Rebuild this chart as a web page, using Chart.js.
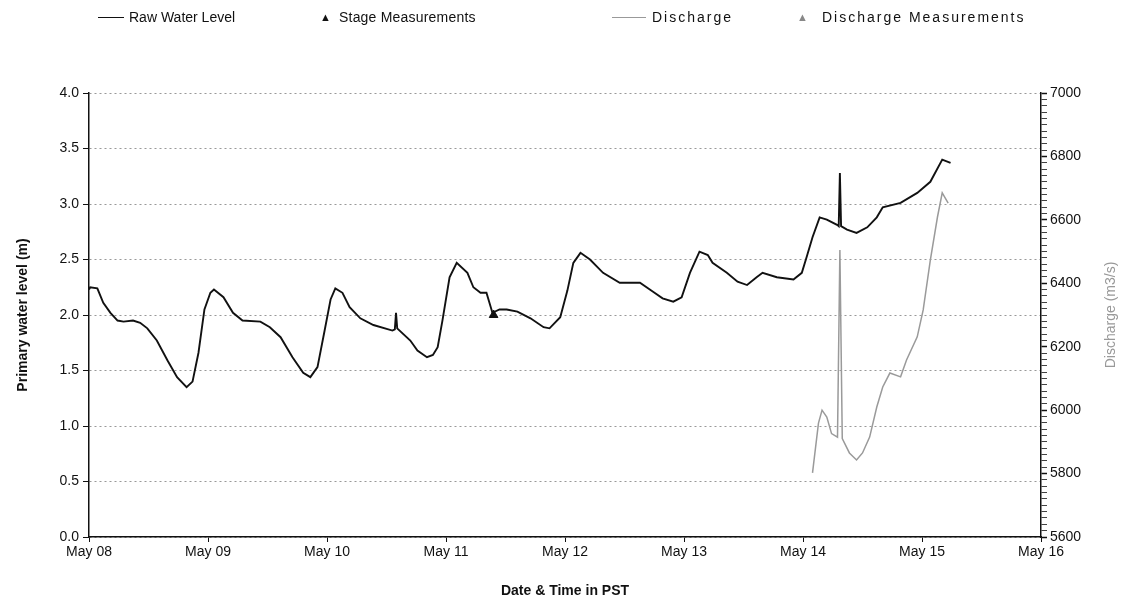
<!DOCTYPE html>
<html>
<head>
<meta charset="utf-8">
<script src="https://cdn.jsdelivr.net/npm/chart.js@4"></script>
<style>
  body{margin:0;background:#fff;}
  #wrap{position:relative;width:1127px;height:603px;}
  #legend{position:absolute;left:0;top:0;width:1127px;height:34px;font:14px "Liberation Sans",Arial,sans-serif;color:#111;}
  #legend span{position:absolute;top:9px;white-space:nowrap;}
  #legend .ln{height:0;top:17px;border-top:1.5px solid #111;}
  #legend .tri{font-size:11px;top:11px;}
  #legend .wide{letter-spacing:2px;}
</style>
</head>
<body>
<div id="wrap">
  <canvas id="level-canvas" width="1127" height="603"></canvas>
  <div id="legend">
    <span class="ln" style="left:98px;width:26px"></span><span style="left:129px">Raw Water Level</span>
    <span class="tri" style="left:320px">▲</span><span style="left:339px;letter-spacing:0.2px">Stage Measurements</span>
    <span class="ln" style="left:612px;width:34px;border-color:#999"></span><span class="wide" style="left:652px">Discharge</span>
    <span class="tri" style="left:797px;color:#888">▲</span><span class="wide" style="left:822px">Discharge Measurements</span>
  </div>
</div>
<script>
// x values are days after May 08 00:00 PST
const dayLabels=['May 08','May 09','May 10','May 11','May 12','May 13','May 14','May 15','May 16']

const levelDays=[0.00,0.01,0.07,0.12,0.18,0.24,0.29,0.37,0.43,0.49,0.57,0.66,0.74,0.82,0.87,0.92,0.97,1.02,1.05,1.13,
  1.21,1.29,1.44,1.52,1.61,1.71,1.80,1.86,1.92,1.98,2.03,2.07,2.13,2.19,2.28,2.39,2.55,2.57,2.58,2.59,
  2.70,2.76,2.84,2.89,2.93,2.97,3.03,3.09,3.18,3.23,3.29,3.34,3.39,3.45,3.51,3.60,3.71,3.82,3.87,3.96,
  4.02,4.07,4.13,4.21,4.32,4.46,4.63,4.74,4.82,4.91,4.98,5.05,5.13,5.20,5.24,5.36,5.45,5.53,5.61,5.66,
  5.78,5.92,5.99,6.03,6.08,6.14,6.20,6.29,6.30,6.31,6.32,6.37,6.45,6.54,6.62,6.67,6.82,6.96,7.07,7.17,7.24]
const levelValues=[2.23,2.25,2.24,2.11,2.02,1.95,1.94,1.95,1.93,1.88,1.77,1.59,1.44,1.35,1.40,1.66,2.05,2.20,2.23,2.16,
  2.02,1.95,1.94,1.89,1.80,1.62,1.48,1.44,1.53,1.86,2.14,2.24,2.20,2.07,1.97,1.91,1.86,1.87,2.02,1.88,
  1.77,1.68,1.62,1.64,1.71,1.95,2.34,2.47,2.38,2.25,2.20,2.20,2.02,2.05,2.05,2.03,1.97,1.89,1.88,1.98,
  2.22,2.47,2.56,2.50,2.38,2.29,2.29,2.21,2.15,2.12,2.16,2.38,2.57,2.54,2.47,2.38,2.30,2.27,2.34,2.38,
  2.34,2.32,2.38,2.52,2.70,2.88,2.86,2.81,2.80,3.28,2.80,2.77,2.74,2.79,2.88,2.97,3.01,3.10,3.20,3.40,3.37]

const dischargeDays=[6.08,6.13,6.16,6.20,6.24,6.29,6.31,6.33,6.39,6.45,6.50,6.56,6.62,6.67,6.73,6.82,6.87,6.96,7.01,7.07,7.13,7.17,7.22]
const dischargeValues=[5802,5959,6000,5978,5926,5915,6505,5910,5865,5843,5865,5915,6010,6073,6117,6105,6158,6231,6316,6473,6609,6685,6653]

const stageDays=[3.40]
const stageValues=[2.00]
const dischargeMeasDays=[]
const dischargeMeasValues=[]

const toPoints=(xs,ys)=>xs.map((x,i)=>({x:x,y:ys[i]}))

const font={family:'"Liberation Sans", Arial, sans-serif',size:14}

// right axis title reads bottom to top like the left one
const rightTitle={
  id:'rightTitle',
  afterDraw(chart){
    const ctx=chart.ctx
    const a=chart.chartArea
    ctx.save()
    ctx.translate(1111,(a.top+a.bottom)/2)
    ctx.rotate(-Math.PI/2)
    ctx.font='14px "Liberation Sans", Arial, sans-serif'
    ctx.fillStyle='#999'
    ctx.textAlign='center'
    ctx.textBaseline='middle'
    ctx.fillText('Discharge (m3/s)',0,0)
    ctx.restore()
  }
}

new Chart(document.getElementById('level-canvas'),{
  type:'line',
  data:{
    datasets:[
      {label:'Raw Water Level',data:toPoints(levelDays,levelValues),borderColor:'#111',borderWidth:1.9,pointRadius:0,yAxisID:'y'},
      {label:'Stage Measurements',type:'scatter',data:toPoints(stageDays,stageValues),pointStyle:'triangle',pointRadius:5,backgroundColor:'#111',borderColor:'#111',yAxisID:'y'},
      {label:'Discharge',data:toPoints(dischargeDays,dischargeValues),borderColor:'#9a9a9a',borderWidth:1.5,pointRadius:0,yAxisID:'y1'},
      {label:'Discharge Measurements',type:'scatter',data:toPoints(dischargeMeasDays,dischargeMeasValues),pointStyle:'triangle',pointRadius:5,backgroundColor:'#888',yAxisID:'y1'}
    ]
  },
  options:{
    responsive:false,
    animation:false,
    layout:{padding:{top:93,left:0,right:0,bottom:0}},
    plugins:{legend:{display:false},tooltip:{enabled:false}},
    scales:{
      x:{
        type:'linear',min:0,max:8,
        afterFit:s=>{s.height=66},
        ticks:{stepSize:1,color:'#111',font:font,padding:2,maxRotation:0,callback:v=>dayLabels[v]},
        grid:{drawOnChartArea:false,tickLength:5,tickColor:'#111'},
        border:{color:'#111',width:1.5},
        title:{display:true,text:'Date & Time in PST',color:'#111',font:{family:font.family,size:14,weight:'bold'},padding:{top:0,bottom:3}}
      },
      y:{
        position:'left',min:0,max:4,
        afterFit:s=>{s.width=89},
        ticks:{stepSize:0.5,color:'#111',font:font,padding:4,callback:v=>v.toFixed(1)},
        grid:{color:'#999',tickLength:6,tickColor:'#111'},
        border:{color:'#111',width:1.5,dash:[2,3]},
        title:{display:true,text:'Primary water level (m)',color:'#111',font:{family:font.family,size:14,weight:'bold'},padding:{top:15,bottom:0}}
      },
      y1:{
        position:'right',min:5600,max:7000,
        afterFit:s=>{s.width=86},
        ticks:{stepSize:20,autoSkip:false,color:'#111',font:font,padding:3,callback:v=>(v%200===0?v:'')},
        grid:{drawOnChartArea:false,tickLength:6,tickColor:'#111',tickWidth:c=>(c.tick&&c.tick.value%200===0?1.5:0.8)},
        border:{color:'#111',width:1.5}
      }
    }
  },
  plugins:[rightTitle]
})
</script>
</body>
</html>
